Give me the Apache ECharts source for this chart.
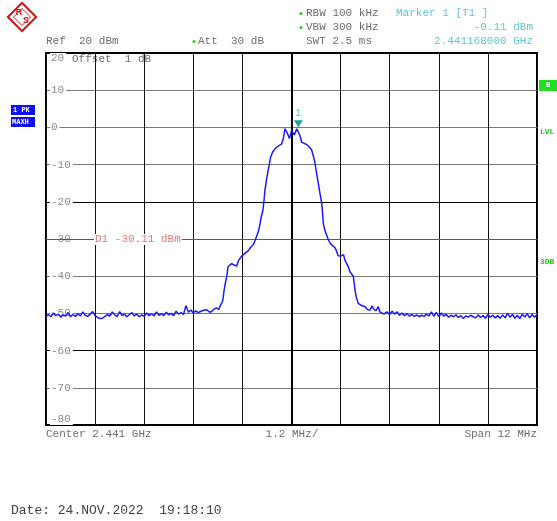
<!DOCTYPE html>
<html>
<head>
<meta charset="utf-8">
<script src="https://cdn.jsdelivr.net/npm/echarts@6/dist/echarts.min.js"></script>
<style>html,body{margin:0;padding:0;background:#fff;}#c{width:557px;height:521px;}</style>
</head>
<body>
<div id="c"></div>
<script>
// Frequency offset from centre (MHz) and level (dBm)
const noiseLeft = [
 [-6.00,-50.8],[-5.94,-50.3],[-5.88,-50.9],[-5.82,-49.9],[-5.76,-50.6],[-5.70,-50.2],[-5.64,-51.0],[-5.58,-50.4],
 [-5.52,-50.7],[-5.46,-49.8],[-5.40,-50.9],[-5.34,-50.3],[-5.28,-50.8],[-5.22,-50.1],[-5.16,-50.7],[-5.10,-49.6],
 [-5.04,-50.5],[-4.98,-50.8],[-4.92,-50.2],[-4.86,-49.5],[-4.80,-50.6],[-4.74,-51.1],[-4.68,-51.4],[-4.62,-51.3],
 [-4.56,-50.8],[-4.50,-50.3],[-4.44,-50.7],[-4.38,-49.6],[-4.32,-50.4],[-4.26,-50.9],[-4.20,-49.5],[-4.14,-50.6],
 [-4.08,-50.2],[-4.02,-50.9],[-3.96,-50.3],[-3.90,-49.8],[-3.84,-50.7],[-3.78,-50.2],[-3.72,-50.9],[-3.66,-50.4],
 [-3.60,-50.8],[-3.54,-49.9],[-3.48,-50.6],[-3.42,-50.1],[-3.36,-50.7],[-3.30,-49.6],[-3.24,-50.5],[-3.18,-50.1],
 [-3.12,-50.6],[-3.06,-49.7],[-3.00,-50.4],[-2.94,-50.0],[-2.88,-50.6],[-2.82,-49.4],[-2.76,-50.2],[-2.70,-49.8],
 [-2.64,-50.3],[-2.58,-47.9],[-2.52,-49.7],[-2.46,-49.1],[-2.40,-49.9],[-2.34,-49.3],[-2.28,-49.8],[-2.22,-49.5]
];
const signalBand = [
 [-2.16,-49.2],[-2.07,-49.0],[-2.00,-49.7],[-1.95,-49.5],[-1.89,-48.8],[-1.83,-48.5],[-1.78,-49.0],[-1.74,-47.9],
 [-1.71,-47.5],[-1.68,-46.6],[-1.65,-44.0],[-1.62,-42.0],[-1.58,-40.0],[-1.55,-37.4],[-1.51,-36.9],[-1.46,-36.6],
 [-1.40,-37.0],[-1.34,-37.3],[-1.30,-35.9],[-1.28,-35.6],[-1.22,-34.6],[-1.19,-34.4],[-1.13,-33.8],[-1.06,-33.2],
 [-1.00,-32.3],[-0.93,-31.5],[-0.89,-30.4],[-0.85,-30.0],[-0.81,-28.0],[-0.77,-26.0],[-0.74,-24.0],[-0.70,-22.4],
 [-0.67,-19.5],[-0.65,-17.0],[-0.61,-14.0],[-0.57,-11.5],[-0.54,-9.8],[-0.51,-8.0],[-0.46,-6.6],[-0.40,-5.7],
 [-0.32,-5.0],[-0.24,-4.4],[-0.20,-3.0],[-0.16,-0.3],[-0.12,-0.6],[-0.10,-1.6],[-0.05,-3.0],[-0.02,-1.8],
 [0.00,-0.8],[0.04,-1.0],[0.07,-2.0],[0.10,-1.2],[0.13,-0.4],[0.168,-0.11],[0.21,-2.3],[0.25,-4.0],
 [0.31,-4.3],[0.37,-4.6],[0.43,-5.2],[0.49,-6.0],[0.53,-7.5],[0.57,-9.3],[0.61,-12.0],[0.65,-14.7],
 [0.70,-18.0],[0.74,-20.5],[0.78,-26.0],[0.82,-27.8],[0.86,-29.0],[0.90,-30.2],[0.94,-31.0],[1.00,-31.8],
 [1.06,-32.3],[1.10,-33.2],[1.14,-34.5],[1.20,-34.6],[1.27,-34.2],[1.31,-35.8],[1.35,-36.6],[1.39,-37.5],
 [1.43,-38.8],[1.51,-40.0],[1.55,-43.5],[1.58,-45.5],[1.63,-47.3],[1.70,-47.8],[1.80,-48.2],[1.86,-49.0],
 [1.92,-49.1],[1.97,-48.0],[2.00,-48.7],[2.06,-49.3],[2.12,-48.2],[2.16,-49.6],[2.20,-49.5],[2.26,-50.2],
 [2.33,-49.6]
];
const noiseRight = [
 [2.40,-50.3],[2.46,-49.4],[2.52,-50.2],[2.58,-49.6],[2.64,-50.5],[2.70,-49.9],[2.76,-50.6],[2.82,-50.1],
 [2.88,-50.7],[2.94,-50.3],[3.00,-50.8],[3.06,-50.4],[3.12,-50.9],[3.18,-50.5],[3.24,-50.8],[3.30,-50.2],
 [3.36,-50.7],[3.42,-49.6],[3.48,-50.8],[3.54,-49.7],[3.60,-50.9],[3.66,-49.9],[3.72,-50.7],[3.78,-50.3],
 [3.84,-51.0],[3.90,-50.5],[3.96,-50.9],[4.02,-50.4],[4.08,-51.1],[4.14,-50.6],[4.20,-51.4],[4.26,-50.7],
 [4.32,-51.0],[4.38,-50.5],[4.44,-50.9],[4.50,-51.2],[4.56,-50.4],[4.62,-51.1],[4.68,-50.6],[4.74,-51.3],
 [4.80,-50.3],[4.86,-51.0],[4.92,-50.5],[4.98,-51.2],[5.04,-50.6],[5.10,-51.3],[5.16,-50.4],[5.22,-51.2],
 [5.28,-50.0],[5.34,-51.0],[5.40,-50.3],[5.46,-51.3],[5.52,-50.5],[5.58,-51.4],[5.64,-50.2],[5.70,-51.0],
 [5.76,-50.1],[5.82,-51.2],[5.88,-50.3],[5.94,-51.0],[6.00,-50.4]
];
const displayLine = -30.11;
const marker1 = [0.168, -0.11];
const spanMHz = [-6, 6];
const levelRange = [-80, 20];

const trace = noiseLeft.concat(signalBand, noiseRight);
const MONO = "'Liberation Mono', 'DejaVu Sans Mono', monospace";
const GRAY = '#6e6e6e';
const CYAN = '#5fc8cc';
const GREEN = '#2ecc2e';

function txt(x, y, s, color, opts) {
  opts = opts || {};
  return {
    type: 'text', x: x, y: y, silent: true,
    style: {
      text: s, fill: color, font: (opts.size || 11) + 'px ' + MONO,
      textAlign: opts.align || 'left', textVerticalAlign: 'middle',
      backgroundColor: opts.bg, padding: opts.pad
    }
  };
}
function star(x, y) {
  return {type: 'circle', silent: true, shape: {cx: x, cy: y, r: 1.6}, style: {fill: GREEN}};
}

const chart = echarts.init(document.getElementById('c'), null, {renderer: 'canvas'});
chart.setOption({
  animation: false,
  backgroundColor: '#fff',
  grid: {left: 46, right: 20, top: 53, bottom: 96, show: true, borderColor: '#000', borderWidth: 2, backgroundColor: 'transparent'},
  xAxis: {
    type: 'value', min: spanMHz[0], max: spanMHz[1], interval: 1.2,
    axisLine: {show: false}, axisTick: {show: false}, axisLabel: {show: false},
    splitLine: {show: true, lineStyle: {color: '#111', width: 1}}
  },
  yAxis: {
    type: 'value', min: levelRange[0], max: levelRange[1], interval: 10,
    axisLine: {show: false}, axisTick: {show: false},
    axisLabel: {
      inside: true, margin: 4, color: '#8a8a8a', fontFamily: MONO, fontSize: 11,
      backgroundColor: '#fff', padding: [0, 2, 0, 1],
      verticalAlignMaxLabel: 'top', verticalAlignMinLabel: 'bottom'
    },
    splitLine: {show: true, lineStyle: {
      color: ['#000', '#7a7a7a', '#000', '#7a7a7a', '#7a7a7a', '#000', '#000', '#7a7a7a', '#7a7a7a', '#7a7a7a', '#000'],
      width: 1}}
  },
  series: [
    {
      type: 'line', data: [], silent: true, z: 1,
      markLine: {
        silent: true, symbol: 'none',
        data: [{xAxis: 0}],
        lineStyle: {color: '#000', width: 2, type: 'solid'},
        label: {show: false}
      }
    },
    {
      type: 'line', data: trace, showSymbol: false, symbol: 'none', silent: true, z: 5,
      lineStyle: {color: '#1a1aff', width: 1.5},
      markLine: {
        silent: true, symbol: 'none',
        data: [{yAxis: displayLine}],
        lineStyle: {color: '#cc2a2a', width: 1, type: 'solid'},
        label: {
          show: true, position: 'insideStart', distance: 48,
          formatter: 'D1 -30.11 dBm', color: '#e07a7a', fontFamily: MONO, fontSize: 11,
          backgroundColor: '#fff', padding: [0, 1]
        }
      },
      markPoint: {
        silent: true,
        data: [{coord: marker1}],
        symbol: 'triangle', symbolRotate: 180, symbolSize: [9, 7], symbolOffset: [0, -4],
        itemStyle: {color: '#1fa0a0'},
        label: {show: true, position: 'top', distance: 2, formatter: '1', color: CYAN, fontFamily: MONO, fontSize: 10}
      }
    }
  ],
  graphic: [
    // R&S logo
    {type: 'group', x: 22, y: 17, children: [
      {type: 'rect', rotation: Math.PI / 4, shape: {x: -10, y: -10, width: 20, height: 20},
       style: {fill: '#fff', stroke: '#d01010', lineWidth: 2}},
      {type: 'rect', rotation: Math.PI / 4, shape: {x: -6, y: -6, width: 12, height: 12},
       style: {fill: 'none', stroke: '#e86060', lineWidth: 1}},
      {type: 'text', x: -3, y: -4, style: {text: 'R', fill: '#d01010', font: 'bold 9px sans-serif', textAlign: 'center', textVerticalAlign: 'middle'}},
      {type: 'text', x: 4, y: 4, style: {text: 'S', fill: '#d01010', font: 'bold 9px sans-serif', textAlign: 'center', textVerticalAlign: 'middle'}}
    ]},
    // header
    star(301, 13.5),
    txt(306, 13, 'RBW 100 kHz', GRAY),
    star(301, 27.5),
    txt(306, 27, 'VBW 300 kHz', GRAY),
    txt(306, 41, 'SWT 2.5 ms', GRAY),
    txt(396, 13, 'Marker 1 [T1 ]', CYAN),
    txt(533, 27, '-0.11 dBm', CYAN, {align: 'right'}),
    txt(533, 41, '2.441168000 GHz', CYAN, {align: 'right'}),
    txt(46, 41, 'Ref  20 dBm', GRAY),
    star(194, 41.5),
    txt(198, 41, 'Att  30 dB', GRAY),
    txt(72, 59, 'Offset  1 dB', GRAY, {bg: '#fff'}),
    // left side boxes
    {type: 'rect', shape: {x: 11, y: 105, width: 24, height: 10}, style: {fill: '#1010ee'}},
    {type: 'text', x: 13, y: 110, style: {text: '1 PK', fill: '#fff', font: 'bold 7px ' + MONO, textVerticalAlign: 'middle'}},
    {type: 'rect', shape: {x: 11, y: 117, width: 24, height: 10}, style: {fill: '#1010ee'}},
    {type: 'text', x: 12, y: 122, style: {text: 'MAXH', fill: '#fff', font: 'bold 7px ' + MONO, textVerticalAlign: 'middle'}},
    // right side
    {type: 'rect', shape: {x: 539, y: 80, width: 18, height: 11}, style: {fill: '#22dd22'}},
    {type: 'text', x: 548, y: 85.5, style: {text: 'B', fill: '#fff', font: 'bold 7px ' + MONO, textAlign: 'center', textVerticalAlign: 'middle'}},
    {type: 'text', x: 540, y: 132, style: {text: 'LVL', fill: '#22cc22', font: 'bold 8px ' + MONO, textVerticalAlign: 'middle'}},
    {type: 'text', x: 540, y: 262, style: {text: '3DB', fill: '#22cc22', font: 'bold 8px ' + MONO, textVerticalAlign: 'middle'}},
    // bottom
    txt(46, 434, 'Center 2.441 GHz', GRAY),
    txt(292, 434, '1.2 MHz/', GRAY, {align: 'center'}),
    txt(537, 434, 'Span 12 MHz', GRAY, {align: 'right'}),
    txt(11, 511, 'Date: 24.NOV.2022  19:18:10', '#444', {size: 13})
  ]
});
</script>
</body>
</html>
